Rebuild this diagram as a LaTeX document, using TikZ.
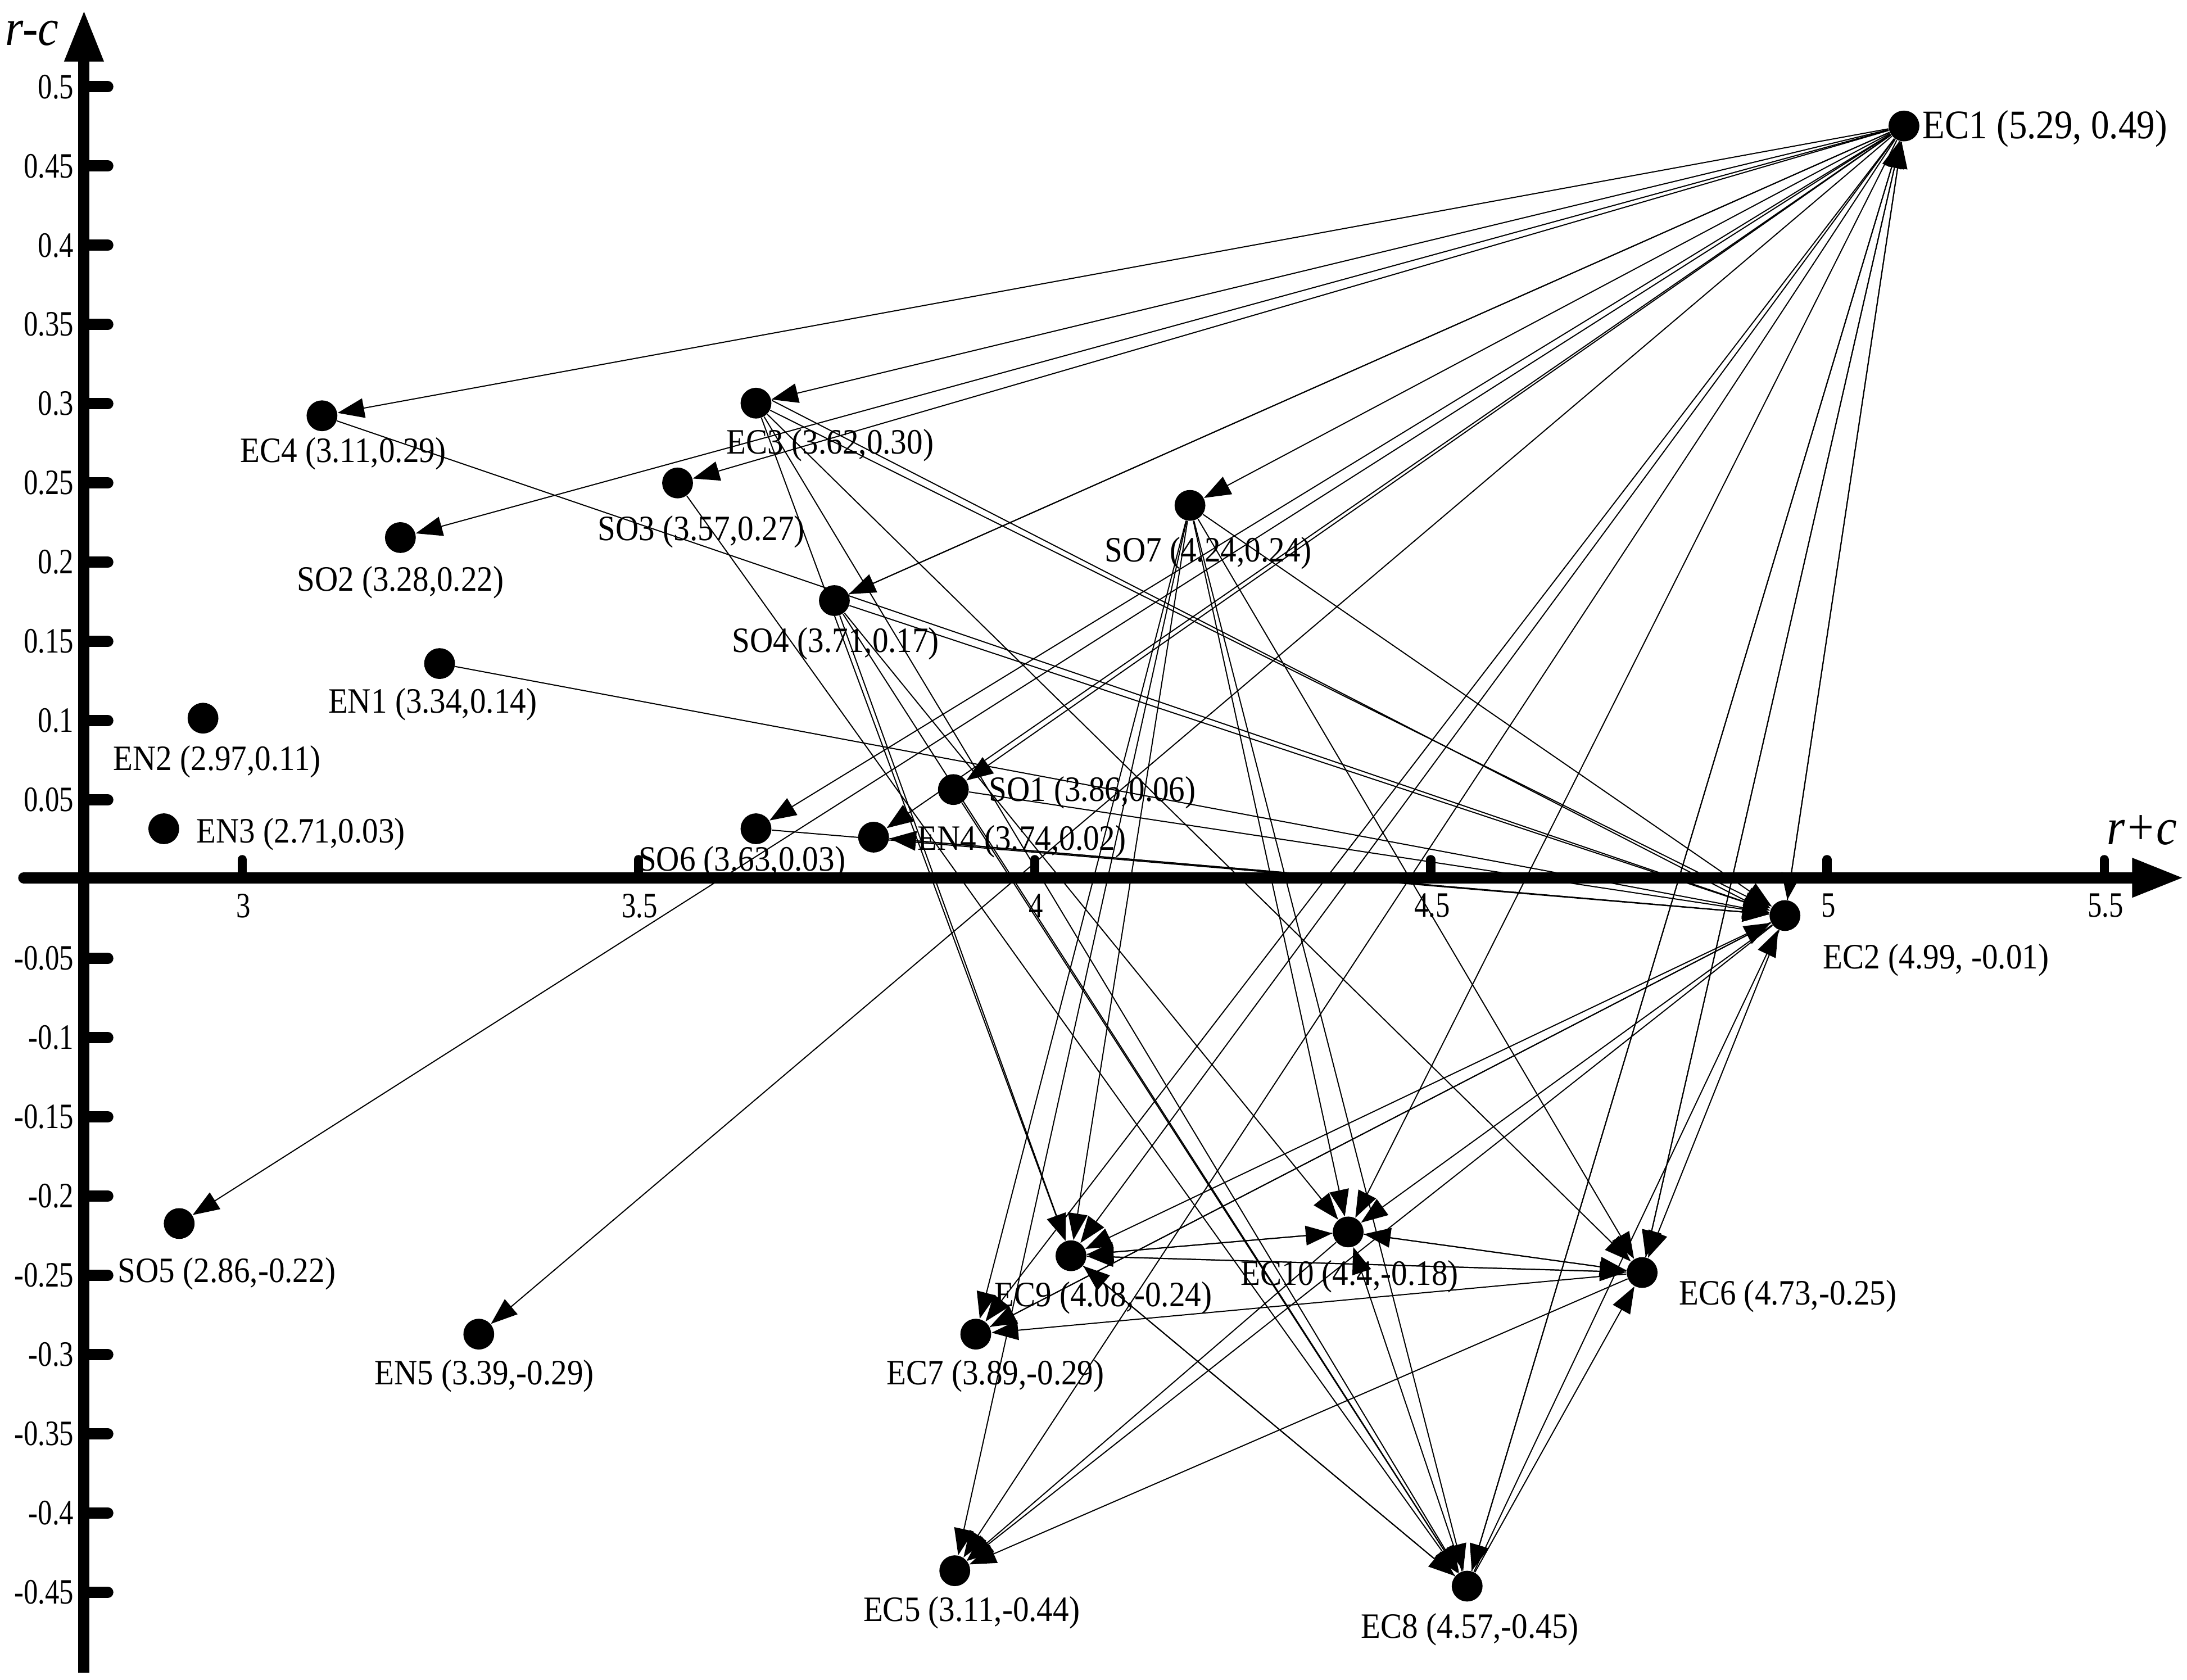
\documentclass[tikz,border=0pt]{standalone}
\usepackage{fontspec}
\setmainfont{Liberation Serif}[FakeStretch=0.9]
\newfontfamily\tickfont{Liberation Serif}[FakeStretch=0.8]
\usetikzlibrary{arrows.meta}
\begin{document}
\begin{tikzpicture}[x=0.2mm,y=-0.2mm,
  dot/.style={circle,fill=black,inner sep=0pt,minimum size=4.4mm},
  lab/.style={font=\fontsize{14.5}{16}\selectfont,inner sep=0pt},
  ticklab/.style={font=\tickfont\fontsize{14.5}{16}\selectfont,inner sep=0pt},
  arr/.style={-{Triangle[length=3.8mm,width=2.8mm]},line width=0.45pt,black},
  plain/.style={line width=0.45pt,black},
  axisline/.style={line width=1.6mm,-{Triangle[length=7.4mm,width=5.2mm]}},
  ytick/.style={line width=1.6mm,line cap=round},
  xtick/.style={line width=1.3mm,line cap=round},
  axlab/.style={font=\fontsize{21}{23}\selectfont\itshape,inner sep=0pt}]
\useasboundingbox (0,0) rectangle (1562.2,1200);
% axes
\coordinate (ybot) at (60,1195);
\coordinate (ytop) at (60,7);
\coordinate (xleft) at (17,627);
\coordinate (xright) at (1560,627);
\draw[axisline] (ybot) -- (ytop);
\draw[axisline,line cap=round] (xleft) -- (xright);
\node[axlab] (yname) at (23,24) {r-c};
\node[axlab] (xname) at (1530,593) {r+c};
\foreach \v in {0.5,0.45,0.4,0.35,0.3,0.25,0.2,0.15,0.1,0.05,-0.05,-0.1,-0.15,-0.2,-0.25,-0.3,-0.35,-0.4,-0.45}{
  \pgfmathsetmacro\yy{628-\v*1132}
  \draw[ytick] (62,\yy) -- (77,\yy);
  \node[ticklab,anchor=east] at (53,\yy) {\v};
}
\foreach \xx/\t in {173/3,456/3.5,739/4,1022/4.5,1305/5,1503/5.5}{
  \draw[xtick] (\xx,626) -- (\xx,614);
  \node[ticklab] at (\xx+1,647) {\t};
}
% nodes
\node[dot] (EC1) at (1360,90) {};
\node[dot] (EC2) at (1275,654) {};
\node[dot] (EC3) at (540,288) {};
\node[dot] (EC4) at (230,297) {};
\node[dot] (SO3) at (484,345) {};
\node[dot] (SO2) at (286,384) {};
\node[dot] (SO4) at (596,429) {};
\node[dot] (EN1) at (314,474) {};
\node[dot] (EN2) at (145,513) {};
\node[dot] (SO7) at (850,361) {};
\node[dot] (SO1) at (681,564) {};
\node[dot] (SO6) at (540,592) {};
\node[dot] (EN4) at (624,598) {};
\node[dot] (EN3) at (117,592) {};
\node[dot] (SO5) at (128,874) {};
\node[dot] (EN5) at (342,953) {};
\node[dot] (EC9) at (765,897) {};
\node[dot] (EC10) at (963,880) {};
\node[dot] (EC7) at (697,953) {};
\node[dot] (EC6) at (1173,909) {};
\node[dot] (EC5) at (682,1122) {};
\node[dot] (EC8) at (1048,1133) {};
% labels
\node[lab,anchor=west,font=\fontsize{16.5}{18}\selectfont] (lEC1) at (1373,92) {EC1 (5.29, 0.49)};
\node[lab,anchor=west] (lEC2) at (1302,686) {EC2 (4.99, -0.01)};
\node[lab] (lEC3) at (593,318) {EC3 (3.62,0.30)};
\node[lab] (lEC4) at (245,324) {EC4 (3.11,0.29)};
\node[lab] (lSO3) at (501,380) {SO3 (3.57,0.27)};
\node[lab] (lSO2) at (286,416) {SO2 (3.28,0.22)};
\node[lab] (lSO7) at (863,395) {SO7 (4.24,0.24)};
\node[lab] (lSO4) at (597,460) {SO4 (3.71,0.17)};
\node[lab] (lEN1) at (309,503) {EN1 (3.34,0.14)};
\node[lab] (lEN2) at (155,544) {EN2 (2.97,0.11)};
\node[lab,anchor=west] (lEN3) at (140,596) {EN3 (2.71,0.03)};
\node[lab,anchor=west] (lSO1) at (706,566) {SO1 (3.86,0.06)};
\node[lab] (lSO6) at (530,616) {SO6 (3.63,0.03)};
\node[lab,anchor=west] (lEN4) at (655,601) {EN4 (3.74,0.02)};
\node[lab] (lSO5) at (162,910) {SO5 (2.86,-0.22)};
\node[lab] (lEN5) at (346,983) {EN5 (3.39,-0.29)};
\node[lab] (lEC9) at (788,927) {EC9 (4.08,-0.24)};
\node[lab] (lEC10) at (964,912) {EC10 (4.4,-0.18)};
\node[lab] (lEC6) at (1277,926) {EC6 (4.73,-0.25)};
\node[lab] (lEC7) at (711,983) {EC7 (3.89,-0.29)};
\node[lab] (lEC5) at (694,1152) {EC5 (3.11,-0.44)};
\node[lab] (lEC8) at (1050,1164) {EC8 (4.57,-0.45)};
% connectors
\foreach \a/\b in {EC1/EC4,EC1/EC3,EC1/SO3,EC1/SO2,EC1/SO7,EC1/SO4,EC1/SO1,EC1/SO6,
  EC1/EN4,EC1/SO5,EC1/EN5,EC1/EC2,EC1/EC9,EC1/EC7,EC1/EC10,EC1/EC6,EC1/EC8,EC1/EC5,
  EC4/EC2,EN1/EC2,EC3/EC2,EC3/EC6,EC3/EC8,EC3/EC9,SO3/EC8,
  SO4/EC2,SO4/EC9,SO4/EC8,SO4/EC10,
  SO7/EC9,SO7/EC7,SO7/EC5,SO7/EC10,SO7/EC8,SO7/EC6,SO7/EC2,
  SO1/EC2,SO1/EC8,EN4/EC2,SO6/EC2,EC2/EN4,
  EC2/EC9,EC2/EC7,EC2/EC5,EC2/EC10,EC2/EC6,EC2/EC1,EC6/EC1,EC8/EC1,
  EC9/EC10,EC10/EC9,EC9/EC6,EC6/EC9,EC10/EC6,EC6/EC10,
  EC8/EC9,EC8/EC10,EC8/EC6,EC8/EC2,EC6/EC7,EC6/EC5,EC7/EC2,EC9/EC8,EC10/EC5}
  \draw[arr] (\a) -- (\b);
\draw[plain] ([yshift=0.4mm]EC3.east) -- ([yshift=0.4mm]EC2.west);
\draw[plain] (SO4) -- (EC1);
\end{tikzpicture}
\end{document}
